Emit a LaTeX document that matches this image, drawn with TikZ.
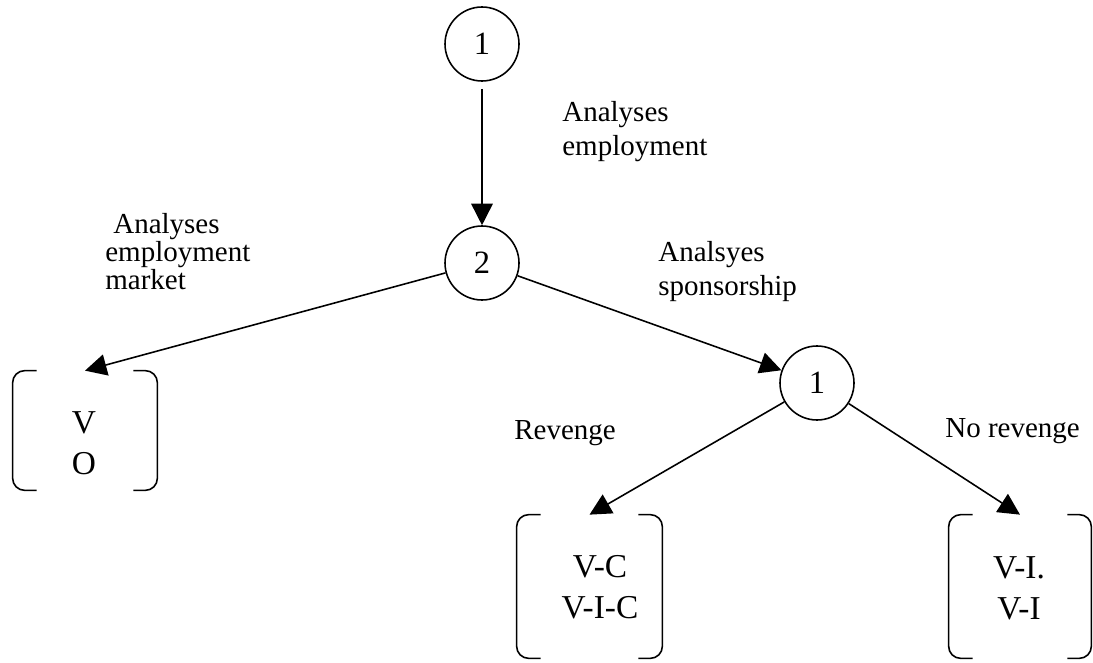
\documentclass[tikz,border=0pt]{standalone}
\usepackage{fontspec}
\setmainfont{Liberation Serif}
\usetikzlibrary{arrows.meta}
\tikzset{
  player/.style  = {circle, draw, line width=0.9pt, minimum size=14.8mm, inner sep=0, font=\fontsize{18.5}{20}\selectfont},
  payoff/.style  = {rectangle, inner sep=0},
  bracket/.style = {line width=0.9pt, rounded corners=2.4mm},
  move/.style    = {line width=0.9pt, -{Triangle[length=4.3mm, width=4.3mm]}},
  lab/.style     = {align=left, inner sep=0, anchor=north west},
  pay/.style     = {align=center, inner sep=0, font=\fontsize{19}{23.3}\selectfont}
}

\begin{document}
\begin{tikzpicture}[font=\fontsize{16.5}{19.3}\selectfont]

  \useasboundingbox (0,0) rectangle (21.86,13.24);

  % decision nodes
  \node[player] (root) at ( 9.64,12.36) {1};
  \node[player] (mid)  at ( 9.64, 7.98) {2};
  \node[player] (sub)  at (16.34, 5.58) {1};

  % payoff vectors
  \node[payoff, minimum width=28.8mm, minimum height=23.8mm] (vo) at ( 1.70,4.63) {};
  \node[payoff, minimum width=29.0mm, minimum height=28.6mm] (vc) at (11.79,1.51) {};
  \node[payoff, minimum width=28.4mm, minimum height=28.6mm] (vi) at (20.40,1.51) {};
  \foreach \b in {vo,vc,vi} {
    \draw[bracket] ([xshift=4.8mm]\b.north west) -- (\b.north west) -- (\b.south west) -- ([xshift=4.8mm]\b.south west);
    \draw[bracket] ([xshift=-4.8mm]\b.north east) -- (\b.north east) -- (\b.south east) -- ([xshift=-4.8mm]\b.south east);
  }
  \node[pay] (vo-t) at ( 1.68,4.38) {V\\O};
  \node[pay] (vc-t) at (12.00,1.49) {V-C\\V-I-C};
  \node[pay] (vi-t) at (20.38,1.48) {V-I.\\V-I};

  % moves
  \draw[move, shorten <=1.4mm] (root) -- (mid);
  \draw[move] (mid) -- (vo.north);
  \draw[move] (mid) -- (sub);
  \draw[move] (sub) -- (vc.north);
  \draw[move] (sub) -- (vi.north);

  % labels
  \node[lab] (l-emp)   at (11.24,11.22) {Analyses\\employment};
  \node[lab, font=\fontsize{16.5}{13.7}\selectfont] (l-mkt) at (2.10,8.98) {\hspace*{1.6mm}Analyses\\employment\\market};
  \node[lab] (l-spo)   at (13.16, 8.42) {Analsyes\\sponsorship};
  \node[lab] (l-rev)   at (10.28, 4.84) {Revenge};
  \node[lab] (l-norev) at (18.90, 4.88) {No revenge};

\end{tikzpicture}
\end{document}
